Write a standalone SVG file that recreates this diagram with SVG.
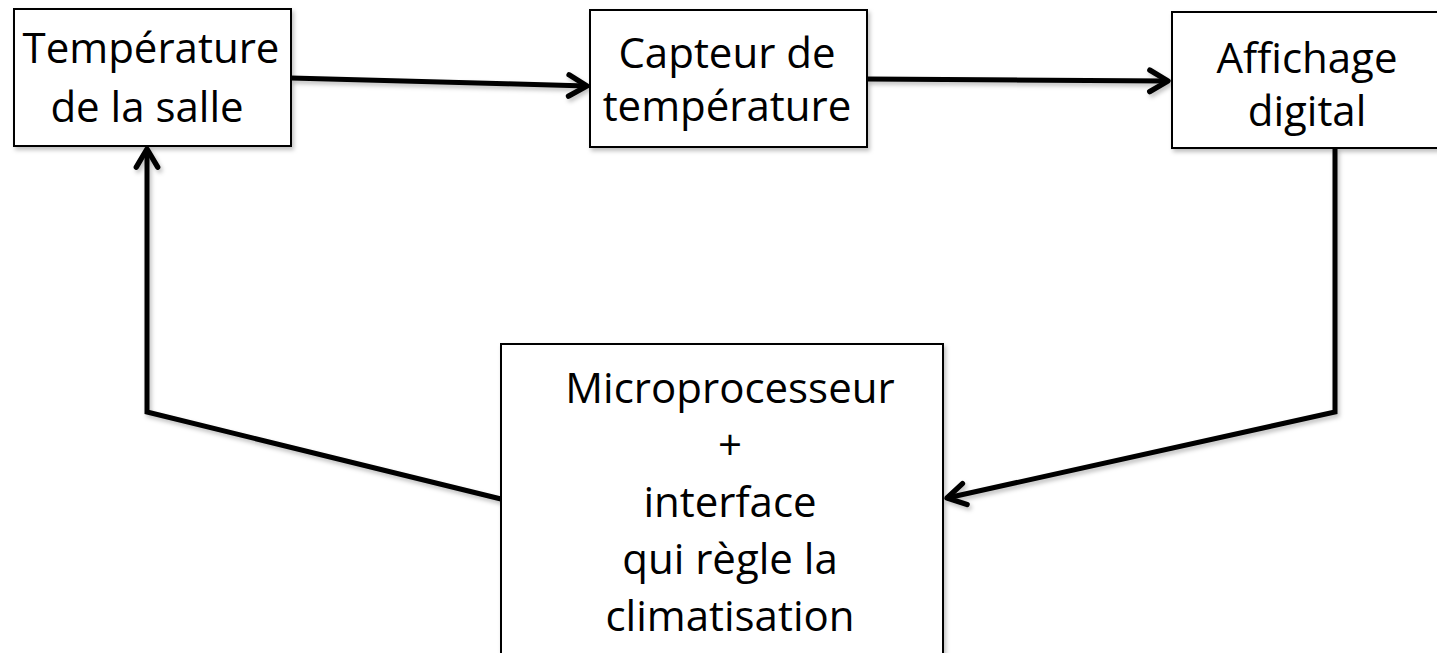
<svg xmlns="http://www.w3.org/2000/svg" width="1437" height="653" viewBox="0 0 1437 653">
  <style>
    .box { fill: #ffffff; stroke: #000000; stroke-width: 2; filter: url(#shadow); }
    .lbl { font-family: "Open Sans", "Liberation Sans", sans-serif; font-size: 42px; fill: #000000; text-anchor: middle; }
    .conn { fill: none; stroke: #000000; stroke-width: 5; stroke-linejoin: miter; filter: url(#shadow); }
  </style>
  <defs>
    <filter id="shadow" filterUnits="userSpaceOnUse" x="-50" y="-50" width="1537" height="753">
      <feDropShadow dx="2" dy="3" stdDeviation="2" flood-color="#000000" flood-opacity="0.25"/>
    </filter>
    <marker id="arrow" markerUnits="userSpaceOnUse" markerWidth="30" markerHeight="30" viewBox="-22 -14 26 28" refX="0" refY="0" orient="auto">
      <path d="M-17,-10 L0,0 L-17,10" fill="none" stroke="#000000" stroke-width="5" stroke-linecap="round" stroke-linejoin="round"/>
    </marker>
  </defs>
  <rect width="1437" height="653" fill="#ffffff"/>

  <g id="connectors">
    <path class="conn" d="M291,78 L587,86" marker-end="url(#arrow)"/>
    <path class="conn" d="M867,79 L1168,81" marker-end="url(#arrow)"/>
    <path class="conn" d="M1335,148 L1335,412 L947,498" marker-end="url(#arrow)"/>
    <path class="conn" d="M501,499 L147,412 L147,149" marker-end="url(#arrow)"/>
  </g>

  <g id="node-temperature-salle">
    <rect class="box" x="14" y="9" width="277" height="137"/>
    <text class="lbl" x="151" y="63">Température</text>
    <text class="lbl" x="147" y="122">de la salle</text>
  </g>

  <g id="node-capteur">
    <rect class="box" x="590" y="10" width="277" height="137"/>
    <text class="lbl" x="727" y="68">Capteur de</text>
    <text class="lbl" x="727" y="121">température</text>
  </g>

  <g id="node-affichage">
    <rect class="box" x="1172" y="12" width="280" height="136"/>
    <text class="lbl" x="1307" y="73">Affichage</text>
    <text class="lbl" x="1307" y="126">digital</text>
  </g>

  <g id="node-microprocesseur">
    <rect class="box" x="501" y="344" width="442" height="330"/>
    <text class="lbl" x="730" y="403">Microprocesseur</text>
    <text class="lbl" x="730" y="460">+</text>
    <text class="lbl" x="730" y="517">interface</text>
    <text class="lbl" x="730" y="574">qui règle la</text>
    <text class="lbl" x="730" y="631">climatisation</text>
  </g>
</svg>
